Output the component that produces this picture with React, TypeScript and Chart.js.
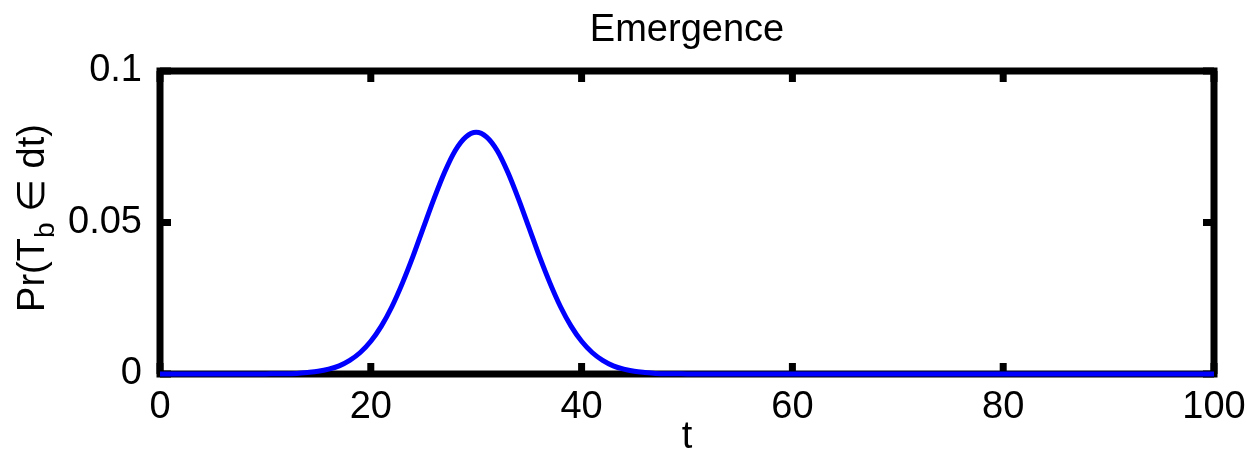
import React, { useEffect, useRef } from "react";
import { Chart, registerables } from "chart.js";

Chart.register(...registerables);

const chartTitle = "Emergence";
const xAxisLabel = "t";
const yLabelMain = "Pr(T";
const yLabelSub = "b";
const yLabelRest = " \u2208 dt)";

const tValues = [
  0, 5, 10, 11, 12, 13, 14, 15, 16, 17, 18, 19, 20, 21, 22, 23, 24, 25, 26, 27, 28, 29, 30,
  31, 32, 33, 34, 35, 36, 37, 38, 39, 40, 41, 42, 43, 44, 45, 46, 47, 48, 49, 50, 60, 70, 80, 90, 100,
];
const prValues = [
  0, 0, 0, 0.0001, 0.0001, 0.0002, 0.0005, 0.0009, 0.0016, 0.0027, 0.0045, 0.0071, 0.0108, 0.0158,
  0.0222, 0.03, 0.0388, 0.0484, 0.0579, 0.0666, 0.0737, 0.0782, 0.0798,
  0.0782, 0.0737, 0.0666, 0.0579, 0.0484, 0.0388, 0.03, 0.0222, 0.0158, 0.0108, 0.0071, 0.0045,
  0.0027, 0.0016, 0.0009, 0.0005, 0.0002, 0.0001, 0.0001, 0, 0, 0, 0, 0, 0,
];
const xTicks = [0, 20, 40, 60, 80, 100];
const yTicks = [0, 0.05, 0.1];
const yTickLabels = ["0", "0.05", "0.1"];

const FONT = "'Liberation Sans', Arial, Helvetica, sans-serif";
const FS = 38;

const boxPlugin = {
  id: "matlabBox",
  beforeDatasetsDraw(chart: any) {
    const { ctx, chartArea } = chart;
    const { left, right, top, bottom } = chartArea;
    ctx.save();
    ctx.strokeStyle = "#000";
    ctx.lineWidth = 7;
    ctx.lineCap = "square";
    ctx.strokeRect(left, top, right - left, bottom - top);
    const tickLen = 11;
    const xs = chart.scales.x;
    const ys = chart.scales.y;
    ctx.lineCap = "butt";
    xTicks.forEach((v) => {
      const px = xs.getPixelForValue(v);
      ctx.beginPath();
      ctx.moveTo(px, bottom);
      ctx.lineTo(px, bottom - tickLen);
      ctx.moveTo(px, top);
      ctx.lineTo(px, top + tickLen);
      ctx.stroke();
    });
    yTicks.forEach((v) => {
      const py = ys.getPixelForValue(v);
      ctx.beginPath();
      ctx.moveTo(left, py);
      ctx.lineTo(left + tickLen, py);
      ctx.moveTo(right, py);
      ctx.lineTo(right - tickLen, py);
      ctx.stroke();
    });
    ctx.restore();
  },
  afterDraw(chart: any) {
    const { ctx, chartArea } = chart;
    const cx = (chartArea.left + chartArea.right) / 2;
    ctx.save();
    ctx.fillStyle = "#000";
    ctx.textBaseline = "alphabetic";
    ctx.textAlign = "center";
    ctx.font = `${FS}px ${FONT}`;
    ctx.fillText(chartTitle, cx, 41);
    ctx.fillText(xAxisLabel, cx, 448);

    // rotated y label with subscript
    const mainFont = `${FS}px ${FONT}`;
    const subFont = `28px ${FONT}`;
    ctx.font = mainFont;
    const w1 = ctx.measureText(yLabelMain).width;
    const w3 = ctx.measureText(yLabelRest).width;
    ctx.font = subFont;
    const w2 = ctx.measureText(yLabelSub).width;
    const total = w1 + w2 + w3;
    const cy = 218;
    ctx.translate(44, cy);
    ctx.rotate(-Math.PI / 2);
    ctx.textAlign = "left";
    let xPos = -total / 2;
    ctx.font = mainFont;
    ctx.fillText(yLabelMain, xPos, 0);
    xPos += w1;
    ctx.font = subFont;
    ctx.fillText(yLabelSub, xPos, 10);
    xPos += w2;
    ctx.font = mainFont;
    ctx.fillText(yLabelRest, xPos, 0);
    ctx.restore();
  },
};

export default function App() {
  const canvasRef = useRef<HTMLCanvasElement | null>(null);

  useEffect(() => {
    if (!canvasRef.current) return;
    Chart.defaults.font.family = FONT;
    const data = tValues.map((t, i) => ({ x: t, y: prValues[i] }));
    const chart = new Chart(canvasRef.current, {
      type: "line",
      data: {
        datasets: [
          {
            data,
            borderColor: "#0000ff",
            borderWidth: 5,
            pointRadius: 0,
            cubicInterpolationMode: "monotone",
            fill: false,
            clip: 8,
          } as any,
        ],
      },
      options: {
        animation: false,
        responsive: false,
        maintainAspectRatio: false,
        layout: { padding: { top: 71, right: 33, left: 0, bottom: 0 } },
        plugins: {
          legend: { display: false },
          title: { display: false },
          tooltip: { enabled: false },
        },
        scales: {
          x: {
            type: "linear",
            min: 0,
            max: 100,
            grid: { display: false },
            border: { display: false },
            afterBuildTicks: (scale: any) => {
              scale.ticks = xTicks.map((v) => ({ value: v }));
            },
            afterFit: (scale: any) => {
              scale.height = 77;
              scale.paddingLeft = 0;
              scale.paddingRight = 0;
            },
            ticks: {
              autoSkip: false,
              maxRotation: 0,
              padding: 3,
              color: "#000",
              font: { size: FS, family: FONT },
              callback: (v: any) => String(v),
            },
          },
          y: {
            type: "linear",
            min: 0,
            max: 0.1,
            grid: { display: false },
            border: { display: false },
            afterBuildTicks: (scale: any) => {
              scale.ticks = yTicks.map((v) => ({ value: v }));
            },
            afterFit: (scale: any) => {
              scale.width = 160;
              scale.paddingTop = 0;
              scale.paddingBottom = 0;
            },
            ticks: {
              autoSkip: false,
              padding: 10,
              color: "#000",
              font: { size: FS, family: FONT },
              callback: (v: any) => {
                const idx = yTicks.findIndex((t) => Math.abs(t - v) < 1e-9);
                return idx >= 0 ? yTickLabels[idx] : "";
              },
            },
          },
        },
      },
      plugins: [boxPlugin],
    });
    return () => chart.destroy();
  }, []);

  return (
    <div style={{ position: "fixed", left: 0, top: 0, width: 1247, height: 451, background: "#fff" }}>
      <canvas ref={canvasRef} width={1247} height={451} style={{ width: 1247, height: 451 }} />
    </div>
  );
}
